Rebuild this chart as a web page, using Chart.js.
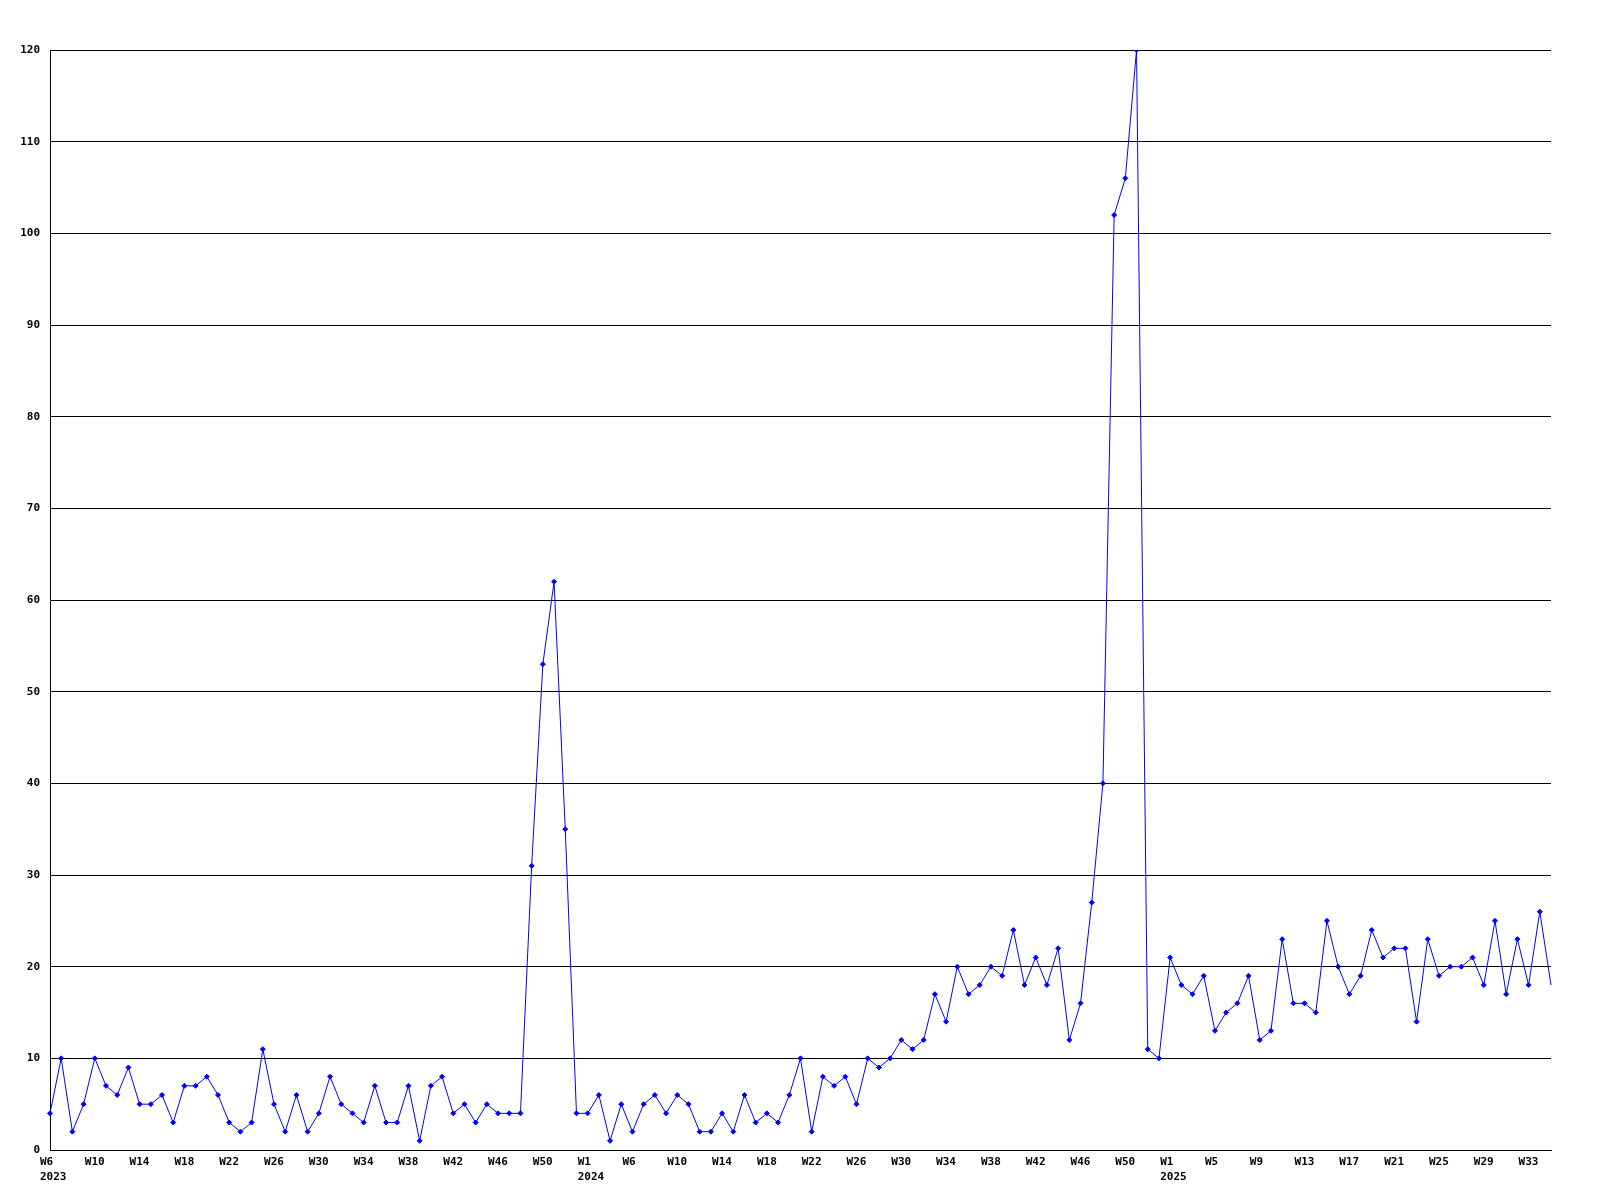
<!DOCTYPE html>
<html>
<head>
<meta charset="utf-8">
<script src="https://cdn.jsdelivr.net/npm/chart.js@4.4.0/dist/chart.umd.min.js"></script>
<style>
  body { margin: 0; background: #fff; }
  canvas { display: block; }
</style>
</head>
<body>
<canvas id="myChart" width="1600" height="1200"></canvas>
<script>
    // weekly counts, split where the year labels sit on the axis
    var series2023 = [4, 10, 2, 5, 10, 7, 6, 9, 5, 5, 6, 3, 7, 7, 8, 6, 3, 2, 3, 11, 5, 2, 6, 2,
        4, 8, 5, 4, 3, 7, 3, 3, 7, 1, 7, 8, 4, 5, 3, 5, 4, 4, 4, 31, 53, 62, 35, 4];
    var series2024 = [4, 6, 1, 5, 2, 5, 6, 4, 6, 5, 2, 2, 4, 2, 6, 3, 4, 3, 6, 10, 2, 8, 7, 8, 5, 10,
        9, 10, 12, 11, 12, 17, 14, 20, 17, 18, 20, 19, 24, 18, 21, 18, 22, 12, 16, 27, 40, 102, 106, 120, 11, 10];
    var series2025 = [21, 18, 17, 19, 13, 15, 16, 19, 12, 13, 23, 16, 16, 15, 25, 20, 17, 19,
        24, 21, 22, 22, 14, 23, 19, 20, 20, 21, 18, 25, 17, 23, 18, 26, 18];

    // one label every 4th week
    var weekTicks = ['W6', 'W10', 'W14', 'W18', 'W22', 'W26', 'W30', 'W34', 'W38', 'W42', 'W46', 'W50',
        'W1', 'W6', 'W10', 'W14', 'W18', 'W22', 'W26', 'W30', 'W34', 'W38', 'W42', 'W46', 'W50',
        'W1', 'W5', 'W9', 'W13', 'W17', 'W21', 'W25', 'W29', 'W33'];
    var years = ['2023', '2024', '2025'];

    window.onload = function () {
        var values = series2023.concat(series2024, series2025);
        var labels = values.map(function (v, i) { return i; });
        var yearStarts = [0, series2023.length, series2023.length + series2024.length];
        var last = values.length - 1;

        var tickFont = { family: '"DejaVu Sans Mono", monospace', size: 11, weight: 'bold', lineHeight: 1.35 };

        var ctx = document.getElementById('myChart').getContext('2d');
        new Chart(ctx, {
            type: 'line',
            data: {
                labels: labels,
                datasets: [{
                    data: values,
                    borderColor: '#0000ff',
                    backgroundColor: '#0000ff',
                    borderWidth: 1,
                    tension: 0,
                    fill: false,
                    pointStyle: 'rectRot',
                    pointRadius: function (c) { return c.dataIndex === last ? 0 : 2.5; },
                    pointBorderWidth: 1
                }]
            },
            options: {
                responsive: false,
                animation: false,
                layout: { padding: { left: 0, right: 49, top: 50, bottom: 0 } },
                plugins: {
                    legend: { display: false },
                    tooltip: { enabled: false }
                },
                scales: {
                    x: {
                        offset: false,
                        grid: { display: false, drawTicks: false },
                        border: { display: true, color: '#000', width: 1 },
                        afterFit: function (s) { s.height = 50; },
                        ticks: {
                            autoSkip: false,
                            maxRotation: 0,
                            minRotation: 0,
                            align: 'start',
                            labelOffset: -10,
                            padding: 5,
                            color: '#000',
                            font: tickFont,
                            callback: function (v, i) {
                                if (i % 4 !== 0) return '';
                                var w = weekTicks[i / 4];
                                var y = yearStarts.indexOf(i);
                                return y >= 0 ? [w, years[y]] : w;
                            }
                        }
                    },
                    y: {
                        min: 0,
                        max: 120,
                        grid: { color: '#000', lineWidth: 1, drawTicks: false },
                        border: { display: true, color: '#000', width: 1 },
                        afterFit: function (s) { s.width = 50; },
                        ticks: {
                            stepSize: 10,
                            padding: 10,
                            color: '#000',
                            font: tickFont
                        }
                    }
                }
            }
        });
    };
</script>
</body>
</html>
